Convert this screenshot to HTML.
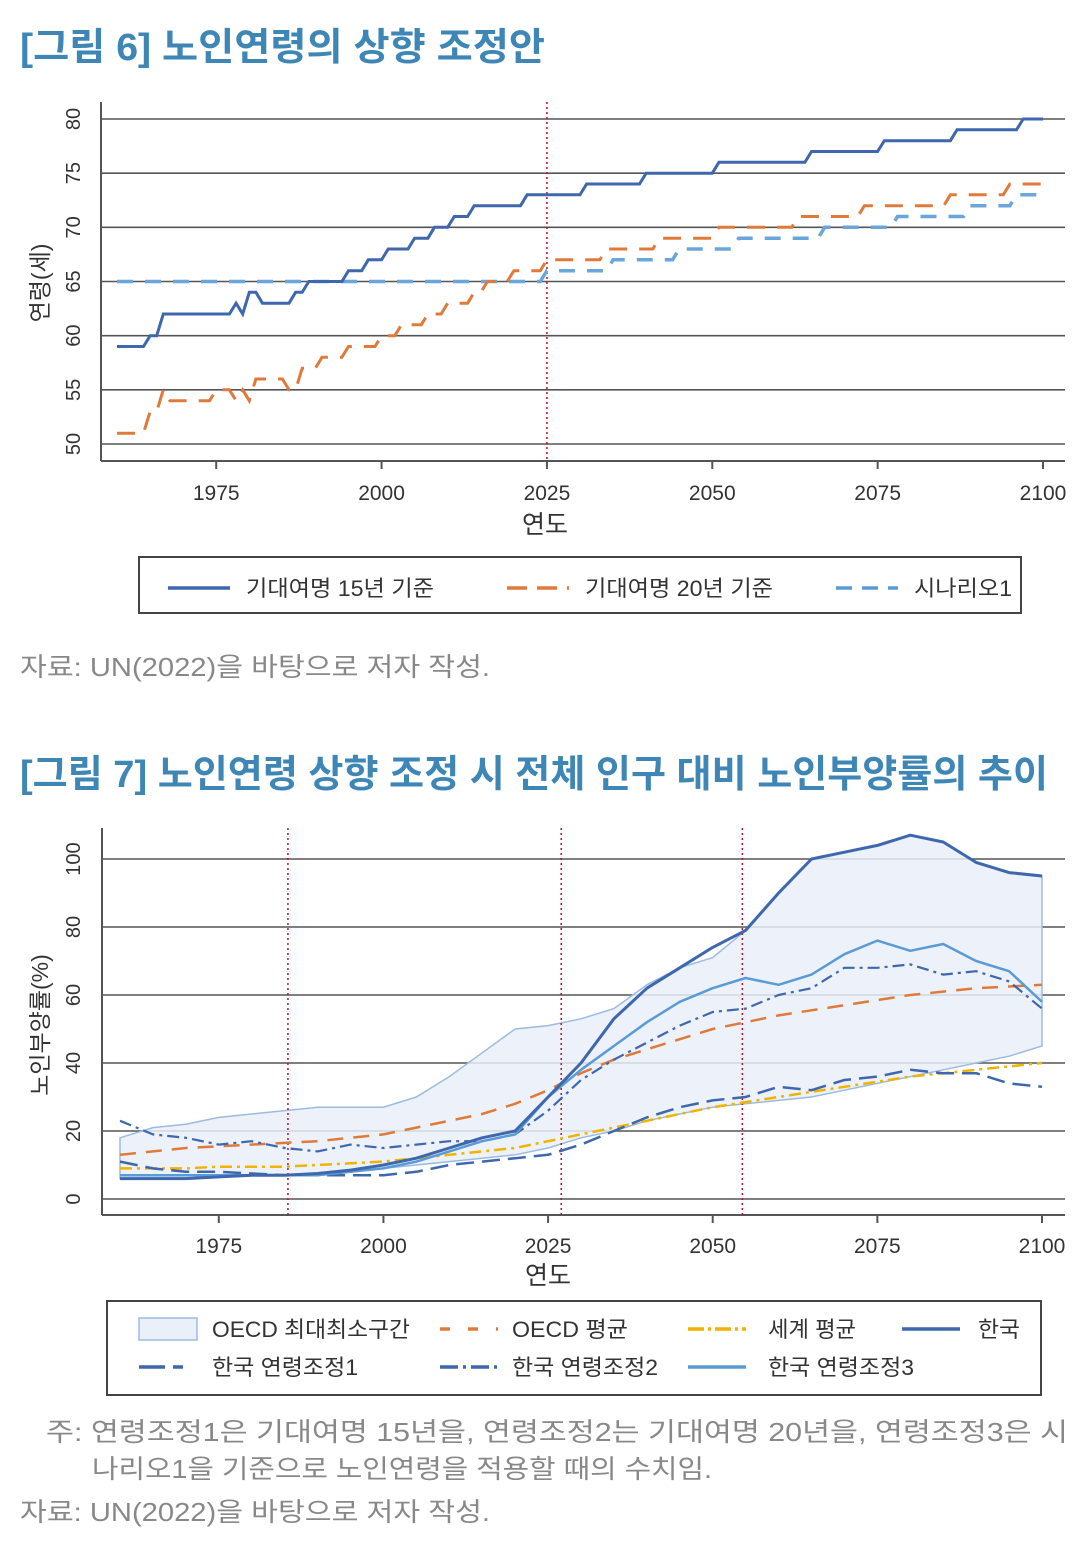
<!DOCTYPE html>
<html><head><meta charset="utf-8">
<style>
html,body{margin:0;padding:0;background:#fff;}
svg{display:block;font-family:"Liberation Sans","Noto Sans CJK KR",sans-serif;}
</style></head>
<body>
<svg id="s" width="1080" height="1549" viewBox="0 0 1080 1549" xmlns="http://www.w3.org/2000/svg">
<text x="20" y="60" font-size="38" font-weight="bold" fill="#3d86b5" textLength="525" lengthAdjust="spacingAndGlyphs">[그림 6] 노인연령의 상향 조정안</text>
<text x="20" y="787" font-size="38" font-weight="bold" fill="#3d86b5" textLength="1028" lengthAdjust="spacingAndGlyphs">[그림 7] 노인연령 상향 조정 시 전체 인구 대비 노인부양률의 추이</text>
<g id="c1"></g>
<g id="c2"></g>
<text x="20" y="676" font-size="26" fill="#888" textLength="470" lengthAdjust="spacingAndGlyphs">자료: UN(2022)을 바탕으로 저자 작성.</text>
<text x="46" y="1441" font-size="26" fill="#888" textLength="1022" lengthAdjust="spacingAndGlyphs">주: 연령조정1은 기대여명 15년을, 연령조정2는 기대여명 20년을, 연령조정3은 시</text>
<text x="92" y="1478" font-size="26" fill="#888" textLength="620" lengthAdjust="spacingAndGlyphs">나리오1을 기준으로 노인연령을 적용할 때의 수치임.</text>
<text x="20" y="1521" font-size="26" fill="#888" textLength="470" lengthAdjust="spacingAndGlyphs">자료: UN(2022)을 바탕으로 저자 작성.</text>
</svg>
<script>
// ---- Chart 1 data ----
const c1BlueYears=[1960,1965,1967,1978,1979,1980,1982,1987,1989,1995,1998,2001,2005,2008,2011,2014,2022,2031,2040,2051,2065,2076,2087,2097,2100];
const c1BlueVals =[59,60,62,63,62,64,63,64,65,66,67,68,69,70,71,72,73,74,75,76,77,78,79,80,80];
const c1OrangeYears=[1960,1965,1967,1968,1975,1978,1979,1980,1981,1984,1986,1988,1991,1995,2000,2003,2007,2010,2014,2016,2020,2025,2034,2042,2051,2063,2073,2086,2095,2100];
const c1OrangeVals =[51,53,55,54,55,54,55,54,56,56,55,57,58,59,60,61,62,63,64,65,66,67,68,69,70,71,72,73,74,74];
const c1LightYears=[1960,2025,2035,2045,2054,2067,2078,2089,2096,2100];
const c1LightVals =[65,66,67,68,69,70,71,72,73,73];
const c1YTicks=[50,55,60,65,70,75,80];
const c1XTicks=[1975,2000,2025,2050,2075,2100];

// ---- Chart 2 data ----
const c2Years=[1960,1965,1970,1975,1980,1985,1990,1995,2000,2005,2010,2015,2020,2025,2030,2035,2040,2045,2050,2055,2060,2065,2070,2075,2080,2085,2090,2095,2100];
const c2BandUpper=[18,21,22,24,25,26,27,27,27,30,36,43,50,51,53,56,63,68,71,79,90,100,102,104,107,105,99,96,95];
const c2BandLower=[6,6,6,6.5,7,7,7,8,9,10,11,12,13,15,18,20,23,25,27,28,29,30,32,34,36,38,40,42,45];
const c2OecdMean=[13,14,15,15.5,16,16.5,17,18,19,21,23,25,28,32,37,41,44,47,50,52,54,55.5,57,58.5,60,61,62,62.5,63];
const c2World=[9,9,9,9.5,9.5,9.5,10,10.5,11,12,13,14,15,17,19,21,23,25,27,28.5,30,31.5,33,34.5,36,37,38,39,40];
const c2Korea=[6,6,6,6.5,7,7,7.5,8.5,10,12,15,18,20,30,40,53,62,68,74,79,90,100,102,104,107,105,99,96,95];
const c2Adj1=[11,9,8,8,7.5,7,7,7,7,8,10,11,12,13,16,20,24,27,29,30,33,32,35,36,38,37,37,34,33];
const c2Adj2=[23,19,18,16,17,15,14,16,15,16,17,17,19,26,35,41,46,51,55,56,60,62,68,68,69,66,67,64,56];
const c2Adj3=[7,7,7,7,7,7,7,8,9,11,14,17,19,30,38,45,52,58,62,65,63,66,72,76,73,75,70,67,58];
const c2YTicks=[0,20,40,60,80,100];
const c2XTicks=[1975,2000,2025,2050,2075,2100];
const c2Refs=[1985.5,2027,2054.5];

const NS="http://www.w3.org/2000/svg";
function mk(parent,tag,attrs){const e=document.createElementNS(NS,tag);for(const k in attrs)e.setAttribute(k,attrs[k]);parent.appendChild(e);return e;}

// ===== Chart 1 =====
(function(){
  const g=document.getElementById('c1');
  const x=y=>117+(y-1960)*(1043-117)/140;
  const yv=v=>444-(v-50)*(444-119)/30;
  c1YTicks.forEach(v=>{
    const l=mk(g,'line',{x1:101,x2:1065,y1:yv(v),y2:yv(v),stroke:'#555','stroke-width':1.6});
    
    
    const t=mk(g,'text',{x:0,y:0,'font-size':20,fill:'#333','text-anchor':'middle',transform:`translate(80,${yv(v)}) rotate(-90)`});
    t.textContent=v;
    
    
  });
  mk(g,'line',{x1:101,x2:101,y1:102,y2:461,stroke:'#555','stroke-width':2});
  mk(g,'line',{x1:101,x2:1065,y1:461,y2:461,stroke:'#555','stroke-width':2});
  c1XTicks.forEach(v=>{
    mk(g,'line',{x1:x(v),x2:x(v),y1:461,y2:469,stroke:'#555','stroke-width':2});
    const t=mk(g,'text',{x:x(v),y:500,'font-size':21,fill:'#333','text-anchor':'middle'});
    t.textContent=v;
    
    
  });
  const xt=mk(g,'text',{x:545,y:533,'font-size':25,fill:'#333','text-anchor':'middle'});xt.textContent='연도';
  
  
  const yt=mk(g,'text',{x:0,y:0,'font-size':23,fill:'#333','text-anchor':'middle',transform:'translate(48,283) rotate(-90)'});yt.textContent='연령(세)';
  
  
  const r=mk(g,'line',{x1:x(2025),x2:x(2025),y1:102,y2:461,stroke:'#c0102a','stroke-width':1.5,'stroke-dasharray':'2 3'});
  
  
  const path=(ys,vs)=>{let d='M'+x(ys[0]).toFixed(1)+','+yv(vs[0]).toFixed(1);
    for(let i=1;i<ys.length;i++){d+='L'+x(ys[i]-1).toFixed(1)+','+yv(vs[i-1]).toFixed(1)+'L'+x(ys[i]).toFixed(1)+','+yv(vs[i]).toFixed(1);}
    return d;};
  const s3=mk(g,'path',{d:path(c1LightYears,c1LightVals),fill:'none',stroke:'#6aa6dc','stroke-width':3.5,'stroke-dasharray':'16 12'});
  
  
  const s2=mk(g,'path',{d:path(c1OrangeYears,c1OrangeVals),fill:'none',stroke:'#e07a3a','stroke-width':3,'stroke-dasharray':'18 12'});
  
  
  const s1=mk(g,'path',{d:path(c1BlueYears,c1BlueVals),fill:'none',stroke:'#3f67ad','stroke-width':3});
  
  
  const lg=mk(g,'g',{});
  
  
  mk(lg,'rect',{x:139,y:557,width:882,height:56,fill:'#fff',stroke:'#444','stroke-width':2});
  const items=[[168,'#3f67ad','','기대여명 15년 기준',188],[507,'#e07a3a','20 10','기대여명 20년 기준',188],[836,'#5b9bd5','16 10','시나리오1',98]];
  items.forEach(it=>{
    mk(lg,'line',{x1:it[0],x2:it[0]+62,y1:588,y2:588,stroke:it[1],'stroke-width':3.5,'stroke-dasharray':it[2]});
    const t=mk(lg,'text',{x:it[0]+78,y:596,'font-size':22,fill:'#333',textLength:it[4],lengthAdjust:'spacingAndGlyphs'});t.textContent=it[3];
    
    
  });
})();

// ===== Chart 2 =====
(function(){
  const g=document.getElementById('c2');
  const x=y=>120+(y-1960)*(1042-120)/140;
  const yv=v=>1199-v*(1199-859)/100;
  c2YTicks.forEach(v=>{
    const l=mk(g,'line',{x1:102,x2:1065,y1:yv(v),y2:yv(v),stroke:'#555','stroke-width':1.6});
    
    
    const t=mk(g,'text',{x:0,y:0,'font-size':20,fill:'#333','text-anchor':'middle',transform:`translate(80,${yv(v)}) rotate(-90)`});
    t.textContent=v;
    
    
  });
  mk(g,'line',{x1:102,x2:102,y1:828,y2:1215,stroke:'#555','stroke-width':2});
  mk(g,'line',{x1:102,x2:1065,y1:1215,y2:1215,stroke:'#555','stroke-width':2});
  c2XTicks.forEach(v=>{
    mk(g,'line',{x1:x(v),x2:x(v),y1:1215,y2:1223,stroke:'#555','stroke-width':2});
    const t=mk(g,'text',{x:x(v),y:1253,'font-size':21,fill:'#333','text-anchor':'middle'});
    t.textContent=v;
    
    
  });
  const xt=mk(g,'text',{x:548,y:1284,'font-size':25,fill:'#333','text-anchor':'middle'});xt.textContent='연도';
  
  
  const yt=mk(g,'text',{x:0,y:0,'font-size':23,fill:'#333','text-anchor':'middle',transform:'translate(48,1025) rotate(-90)'});yt.textContent='노인부양률(%)';
  
  
  let d='';
  c2Years.forEach((yy,i)=>{d+=(i?'L':'M')+x(yy).toFixed(1)+','+yv(c2BandUpper[i]).toFixed(1);});
  for(let i=c2Years.length-1;i>=0;i--)d+='L'+x(c2Years[i]).toFixed(1)+','+yv(c2BandLower[i]).toFixed(1);
  const band=mk(g,'path',{d:d+'Z',fill:'#e9eff9','fill-opacity':0.85,stroke:'#9dbbe0','stroke-width':1.5});
  
  
  c2Refs.forEach(v=>{
    const r=mk(g,'line',{x1:x(v),x2:x(v),y1:828,y2:1215,stroke:'#c0102a','stroke-width':1.5,'stroke-dasharray':'2 3'});
    
    
  });
  const path=vs=>c2Years.map((yy,i)=>(i?'L':'M')+x(yy).toFixed(1)+','+yv(vs[i]).toFixed(1)).join('');
  const series=[
    [c2World,'#f0b400','12 5 3 5',2.5,'series-world-mean'],
    [c2OecdMean,'#e07a3a','16 10',2.5,'series-oecd-mean'],
    [c2Adj1,'#3f67ad','18 8',2.5,'series-korea-adj1'],
    [c2Adj2,'#3f67ad','12 5 3 5',2.2,'series-korea-adj2'],
    [c2Adj3,'#5b9bd5','',2.5,'series-korea-adj3'],
    [c2Korea,'#3f67ad','',3,'series-korea']
  ];
  series.forEach(s=>{
    const p=mk(g,'path',{d:path(s[0]),fill:'none',stroke:s[1],'stroke-width':s[3],'stroke-dasharray':s[2],'stroke-linejoin':'round'});
    
    
  });
  const lg=mk(g,'g',{});
  
  
  mk(lg,'rect',{x:107,y:1301,width:934,height:94,fill:'#fff',stroke:'#444','stroke-width':2});
  mk(lg,'rect',{x:139,y:1318,width:58,height:22,fill:'#eaf0f9',stroke:'#9dbbe0','stroke-width':1.5});
  const items=[
    [139,1329,null,'','OECD 최대최소구간',212,198],
    [440,1329,'#e07a3a','10 18','OECD 평균',512,116],
    [688,1329,'#f0b400','16 4 3 4','세계 평균',768,88],
    [902,1329,'#3f67ad','','한국',978,42],
    [139,1367,'#3f67ad','26 8 10 60','한국 연령조정1',212,146],
    [440,1367,'#3f67ad','18 5 3 5','한국 연령조정2',512,146],
    [688,1367,'#5b9bd5','','한국 연령조정3',768,146]
  ];
  items.forEach(it=>{
    if(it[2])mk(lg,'line',{x1:it[0],x2:it[0]+58,y1:it[1],y2:it[1],stroke:it[2],'stroke-width':3.5,'stroke-dasharray':it[3]});
    const t=mk(lg,'text',{x:it[5],y:it[1]+8,'font-size':22,fill:'#333',textLength:it[6],lengthAdjust:'spacingAndGlyphs'});t.textContent=it[4];
    
    
  });
})();
</script>
</body></html>
